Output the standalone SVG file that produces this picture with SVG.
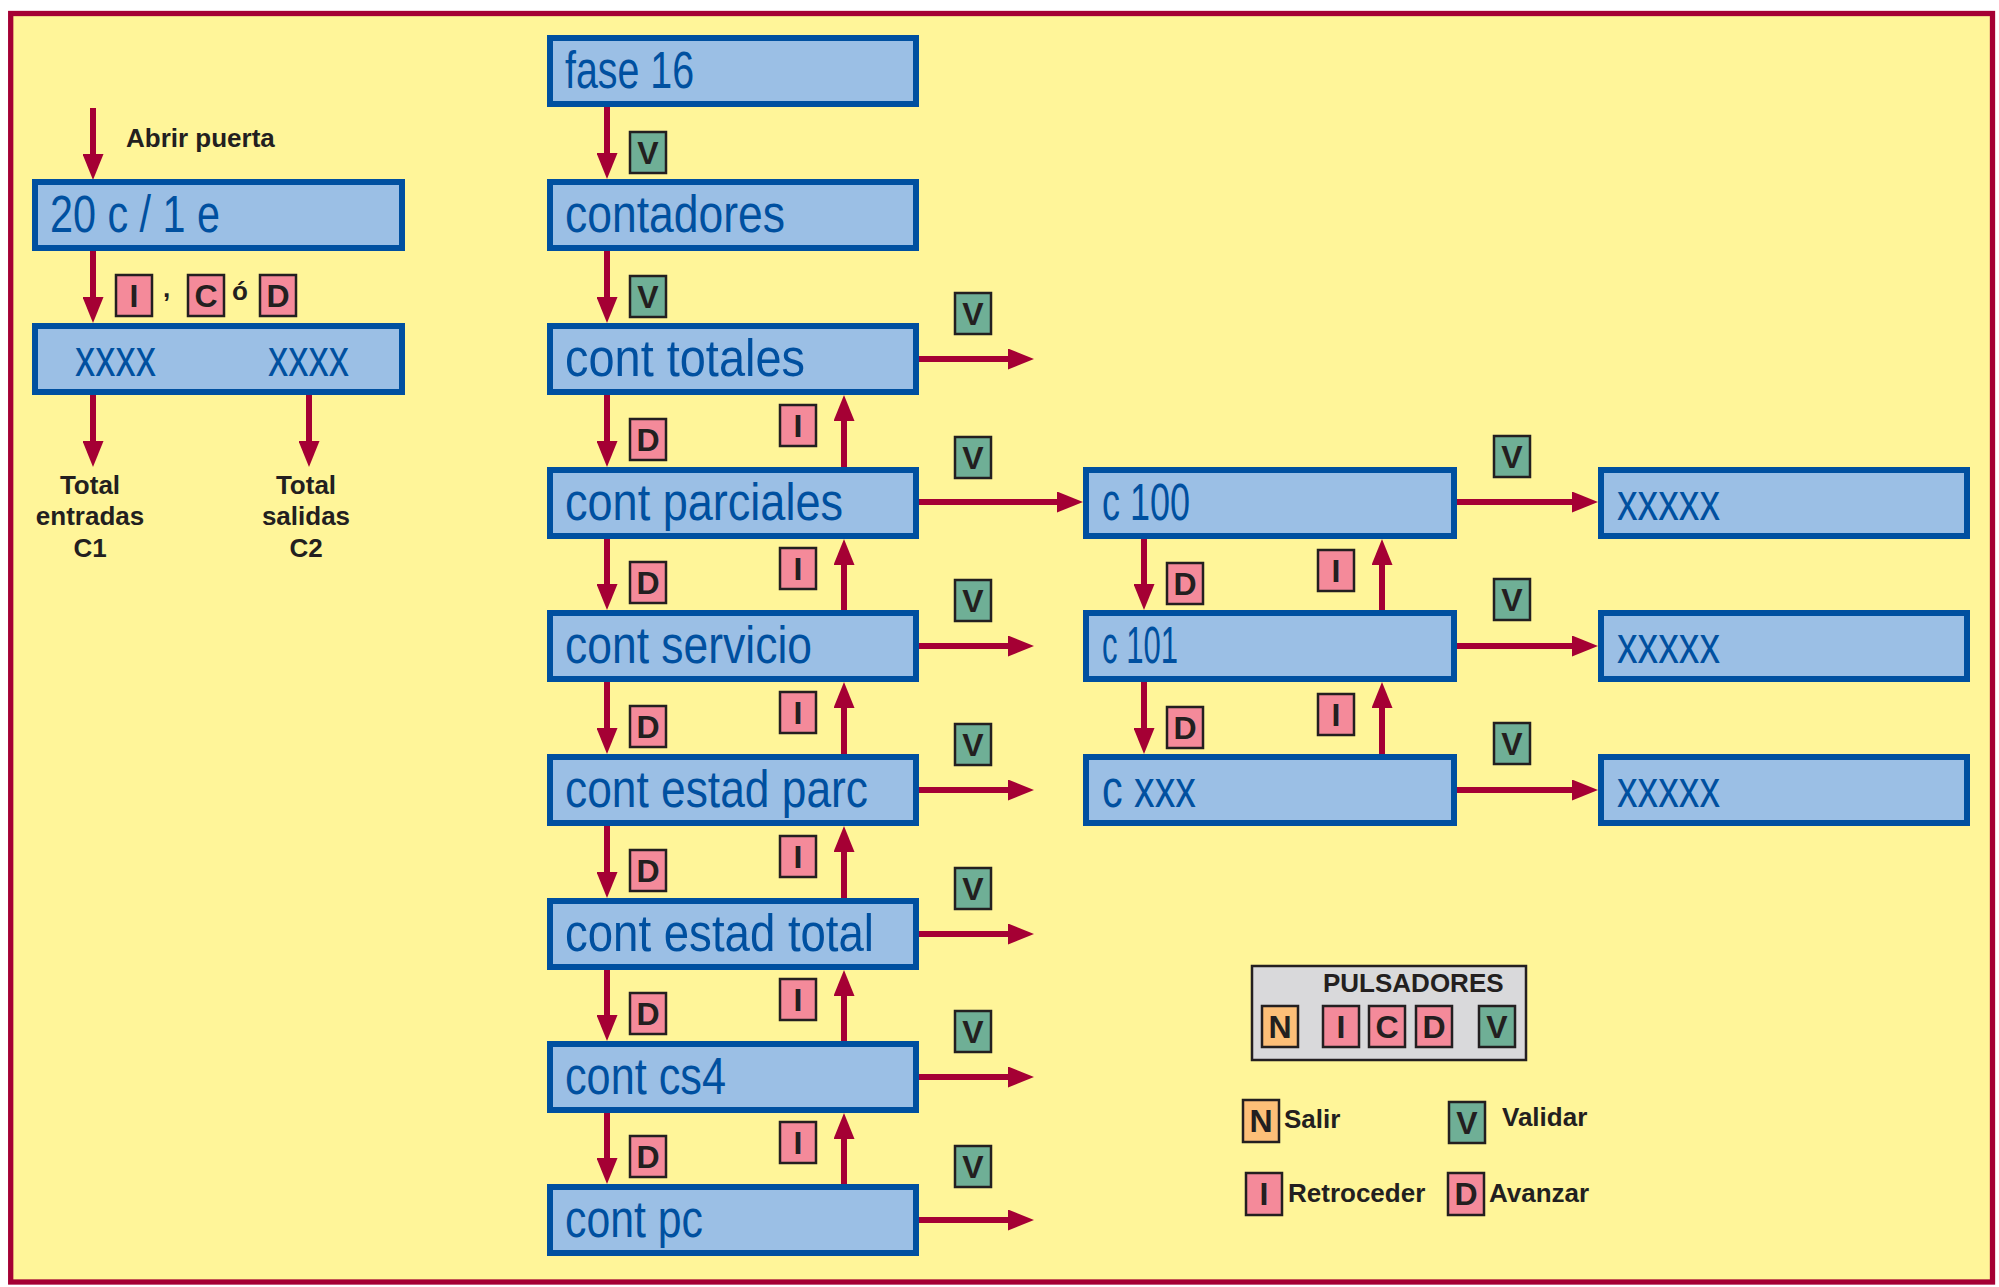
<svg xmlns="http://www.w3.org/2000/svg" width="1999" height="1287" viewBox="0 0 1999 1287">
<defs>
<style>
.bg{fill:#fff599;stroke:#a50034;stroke-width:5.3}
.box{fill:#9bbfe5;stroke:#0050a0;stroke-width:6}
.bx{font-family:"Liberation Sans",Arial,sans-serif;font-size:51px;fill:#0050a0}
.con{stroke:#a50034;stroke-width:6;fill:none;marker-end:url(#ah)}
.bd{stroke:#231f20;stroke-width:2.5}
.pk{fill:#f48a9a}
.gr{fill:#6faf96}
.or{fill:#fdbf78}
.bt{font-family:"Liberation Sans",Arial,sans-serif;font-size:32px;font-weight:bold;fill:#231f20;text-anchor:middle}
.lb{font-family:"Liberation Sans",Arial,sans-serif;font-size:26px;font-weight:bold;fill:#231f20}
.lc{text-anchor:middle}
</style>
<marker id="ah" viewBox="0 0 26 21" refX="1" refY="10.5" markerWidth="26" markerHeight="21" markerUnits="userSpaceOnUse" orient="auto">
<path d="M0,0 L26,10.5 L0,21 z" fill="#a50034"/>
</marker>
</defs>
<rect class="bg" x="10.7" y="13.5" width="1981.8" height="1268.5"/>

<g id="connectors">
<line class="con" x1="93" y1="108" x2="93" y2="155"/>
<line class="con" x1="93" y1="251" x2="93" y2="298"/>
<line class="con" x1="93" y1="395" x2="93" y2="442"/>
<line class="con" x1="309" y1="395" x2="309" y2="442"/>
<line class="con" x1="607" y1="107" x2="607" y2="154"/>
<line class="con" x1="607" y1="251" x2="607" y2="298"/>
<line class="con" x1="607" y1="395" x2="607" y2="442"/>
<line class="con" x1="607" y1="539" x2="607" y2="585"/>
<line class="con" x1="607" y1="682" x2="607" y2="729"/>
<line class="con" x1="607" y1="826" x2="607" y2="873"/>
<line class="con" x1="607" y1="970" x2="607" y2="1016"/>
<line class="con" x1="607" y1="1113" x2="607" y2="1159"/>
<line class="con" x1="844" y1="467" x2="844" y2="420"/>
<line class="con" x1="844" y1="610" x2="844" y2="564"/>
<line class="con" x1="844" y1="754" x2="844" y2="707"/>
<line class="con" x1="844" y1="898" x2="844" y2="851"/>
<line class="con" x1="844" y1="1041" x2="844" y2="995"/>
<line class="con" x1="844" y1="1184" x2="844" y2="1138"/>
<line class="con" x1="919" y1="359" x2="1009" y2="359"/>
<line class="con" x1="919" y1="502" x2="1058" y2="502"/>
<line class="con" x1="919" y1="646" x2="1009" y2="646"/>
<line class="con" x1="919" y1="790" x2="1009" y2="790"/>
<line class="con" x1="919" y1="934" x2="1009" y2="934"/>
<line class="con" x1="919" y1="1077" x2="1009" y2="1077"/>
<line class="con" x1="919" y1="1220" x2="1009" y2="1220"/>
<line class="con" x1="1144" y1="539" x2="1144" y2="585"/>
<line class="con" x1="1144" y1="682" x2="1144" y2="729"/>
<line class="con" x1="1382" y1="610" x2="1382" y2="564"/>
<line class="con" x1="1382" y1="754" x2="1382" y2="707"/>
<line class="con" x1="1457" y1="502" x2="1573" y2="502"/>
<line class="con" x1="1457" y1="646" x2="1573" y2="646"/>
<line class="con" x1="1457" y1="790" x2="1573" y2="790"/>
</g>

<g id="n-abrir"><text class="lb" x="126" y="147">Abrir puerta</text></g>
<g id="n-20c"><rect class="box" x="35" y="182" width="367" height="66"/><text class="bx" x="50" y="232" textLength="170" lengthAdjust="spacingAndGlyphs">20 c / 1 e</text></g>
<g id="n-xxxx"><rect class="box" x="35" y="326" width="367" height="66"/><text class="bx" x="75" y="376" textLength="81" lengthAdjust="spacingAndGlyphs">xxxx</text><text class="bx" x="268" y="376" textLength="81" lengthAdjust="spacingAndGlyphs">xxxx</text></g>
<g id="n-c1"><text class="lb lc" x="90" y="494">Total</text><text class="lb lc" x="90" y="525">entradas</text><text class="lb lc" x="90" y="557">C1</text></g>
<g id="n-c2"><text class="lb lc" x="306" y="494">Total</text><text class="lb lc" x="306" y="525">salidas</text><text class="lb lc" x="306" y="557">C2</text></g>
<g id="k-left">
<rect class="bd pk" x="116" y="275" width="36" height="41"/><text class="bt" x="134" y="307">I</text>
<text class="lb" x="163" y="297">,</text>
<rect class="bd pk" x="188" y="275" width="36" height="41"/><text class="bt" x="206" y="307">C</text>
<text class="lb" x="232" y="300">ó</text>
<rect class="bd pk" x="260" y="275" width="36" height="41"/><text class="bt" x="278" y="307">D</text>
</g>

<g id="n-fase16"><rect class="box" x="550" y="38" width="366" height="66"/><text class="bx" x="565" y="88" textLength="129" lengthAdjust="spacingAndGlyphs">fase 16</text></g>
<g id="n-contadores"><rect class="box" x="550" y="182" width="366" height="66"/><text class="bx" x="565" y="232" textLength="220" lengthAdjust="spacingAndGlyphs">contadores</text></g>
<g id="n-totales"><rect class="box" x="550" y="326" width="366" height="66"/><text class="bx" x="565" y="376" textLength="240" lengthAdjust="spacingAndGlyphs">cont totales</text></g>
<g id="n-parciales"><rect class="box" x="550" y="470" width="366" height="66"/><text class="bx" x="565" y="520" textLength="278" lengthAdjust="spacingAndGlyphs">cont parciales</text></g>
<g id="n-servicio"><rect class="box" x="550" y="613" width="366" height="66"/><text class="bx" x="565" y="663" textLength="247" lengthAdjust="spacingAndGlyphs">cont servicio</text></g>
<g id="n-estadparc"><rect class="box" x="550" y="757" width="366" height="66"/><text class="bx" x="565" y="807" textLength="303" lengthAdjust="spacingAndGlyphs">cont estad parc</text></g>
<g id="n-estadtotal"><rect class="box" x="550" y="901" width="366" height="66"/><text class="bx" x="565" y="951" textLength="309" lengthAdjust="spacingAndGlyphs">cont estad total</text></g>
<g id="n-cs4"><rect class="box" x="550" y="1044" width="366" height="66"/><text class="bx" x="565" y="1094" textLength="161" lengthAdjust="spacingAndGlyphs">cont cs4</text></g>
<g id="n-pc"><rect class="box" x="550" y="1187" width="366" height="66"/><text class="bx" x="565" y="1237" textLength="138" lengthAdjust="spacingAndGlyphs">cont pc</text></g>

<g id="n-c100"><rect class="box" x="1086" y="470" width="368" height="66"/><text class="bx" x="1102" y="520" textLength="88" lengthAdjust="spacingAndGlyphs">c 100</text></g>
<g id="n-c101"><rect class="box" x="1086" y="613" width="368" height="66"/><text class="bx" x="1102" y="663" textLength="76" lengthAdjust="spacingAndGlyphs">c 101</text></g>
<g id="n-cxxx"><rect class="box" x="1086" y="757" width="368" height="66"/><text class="bx" x="1102" y="807" textLength="94" lengthAdjust="spacingAndGlyphs">c xxx</text></g>
<g id="n-x1"><rect class="box" x="1601" y="470" width="366" height="66"/><text class="bx" x="1617" y="520" textLength="103" lengthAdjust="spacingAndGlyphs">xxxxx</text></g>
<g id="n-x2"><rect class="box" x="1601" y="613" width="366" height="66"/><text class="bx" x="1617" y="663" textLength="103" lengthAdjust="spacingAndGlyphs">xxxxx</text></g>
<g id="n-x3"><rect class="box" x="1601" y="757" width="366" height="66"/><text class="bx" x="1617" y="807" textLength="103" lengthAdjust="spacingAndGlyphs">xxxxx</text></g>

<g id="k-middle">
<rect class="bd gr" x="630" y="132" width="36" height="41"/><text class="bt" x="648" y="164">V</text>
<rect class="bd gr" x="630" y="276" width="36" height="41"/><text class="bt" x="648" y="308">V</text>
<rect class="bd pk" x="630" y="419" width="36" height="41"/><text class="bt" x="648" y="451">D</text>
<rect class="bd pk" x="630" y="562" width="36" height="41"/><text class="bt" x="648" y="594">D</text>
<rect class="bd pk" x="630" y="706" width="36" height="41"/><text class="bt" x="648" y="738">D</text>
<rect class="bd pk" x="630" y="850" width="36" height="41"/><text class="bt" x="648" y="882">D</text>
<rect class="bd pk" x="630" y="993" width="36" height="41"/><text class="bt" x="648" y="1025">D</text>
<rect class="bd pk" x="630" y="1136" width="36" height="41"/><text class="bt" x="648" y="1168">D</text>
<rect class="bd pk" x="780" y="405" width="36" height="41"/><text class="bt" x="798" y="437">I</text>
<rect class="bd pk" x="780" y="548" width="36" height="41"/><text class="bt" x="798" y="580">I</text>
<rect class="bd pk" x="780" y="692" width="36" height="41"/><text class="bt" x="798" y="724">I</text>
<rect class="bd pk" x="780" y="836" width="36" height="41"/><text class="bt" x="798" y="868">I</text>
<rect class="bd pk" x="780" y="979" width="36" height="41"/><text class="bt" x="798" y="1011">I</text>
<rect class="bd pk" x="780" y="1122" width="36" height="41"/><text class="bt" x="798" y="1154">I</text>
<rect class="bd gr" x="955" y="293" width="36" height="41"/><text class="bt" x="973" y="325">V</text>
<rect class="bd gr" x="955" y="437" width="36" height="41"/><text class="bt" x="973" y="469">V</text>
<rect class="bd gr" x="955" y="580" width="36" height="41"/><text class="bt" x="973" y="612">V</text>
<rect class="bd gr" x="955" y="724" width="36" height="41"/><text class="bt" x="973" y="756">V</text>
<rect class="bd gr" x="955" y="868" width="36" height="41"/><text class="bt" x="973" y="900">V</text>
<rect class="bd gr" x="955" y="1011" width="36" height="41"/><text class="bt" x="973" y="1043">V</text>
<rect class="bd gr" x="955" y="1146" width="36" height="41"/><text class="bt" x="973" y="1178">V</text>
</g>
<g id="k-c">
<rect class="bd gr" x="1494" y="436" width="36" height="41"/><text class="bt" x="1512" y="468">V</text>
<rect class="bd gr" x="1494" y="579" width="36" height="41"/><text class="bt" x="1512" y="611">V</text>
<rect class="bd gr" x="1494" y="723" width="36" height="41"/><text class="bt" x="1512" y="755">V</text>
<rect class="bd pk" x="1167" y="563" width="36" height="41"/><text class="bt" x="1185" y="595">D</text>
<rect class="bd pk" x="1167" y="707" width="36" height="41"/><text class="bt" x="1185" y="739">D</text>
<rect class="bd pk" x="1318" y="550" width="36" height="41"/><text class="bt" x="1336" y="582">I</text>
<rect class="bd pk" x="1318" y="694" width="36" height="41"/><text class="bt" x="1336" y="726">I</text>
</g>

<g id="n-pulsadores">
<rect x="1252" y="966" width="274" height="94" fill="#d9d9db" stroke="#231f20" stroke-width="2.5"/>
<text class="lb" x="1323" y="992">PULSADORES</text>
<rect class="bd or" x="1262" y="1006" width="36" height="41"/><text class="bt" x="1280" y="1038">N</text>
<rect class="bd pk" x="1323" y="1006" width="36" height="41"/><text class="bt" x="1341" y="1038">I</text>
<rect class="bd pk" x="1369" y="1006" width="36" height="41"/><text class="bt" x="1387" y="1038">C</text>
<rect class="bd pk" x="1416" y="1006" width="36" height="41"/><text class="bt" x="1434" y="1038">D</text>
<rect class="bd gr" x="1479" y="1006" width="36" height="41"/><text class="bt" x="1497" y="1038">V</text>
</g>
<g id="n-legend">
<rect class="bd or" x="1243" y="1100" width="36" height="42"/><text class="bt" x="1261" y="1132">N</text><text class="lb" x="1284" y="1128">Salir</text>
<rect class="bd gr" x="1449" y="1102" width="36" height="41"/><text class="bt" x="1467" y="1134">V</text><text class="lb" x="1502" y="1126">Validar</text>
<rect class="bd pk" x="1246" y="1173" width="36" height="42"/><text class="bt" x="1264" y="1205">I</text><text class="lb" x="1288" y="1202">Retroceder</text>
<rect class="bd pk" x="1448" y="1173" width="36" height="42"/><text class="bt" x="1466" y="1205">D</text><text class="lb" x="1489" y="1202">Avanzar</text>
</g>
</svg>
